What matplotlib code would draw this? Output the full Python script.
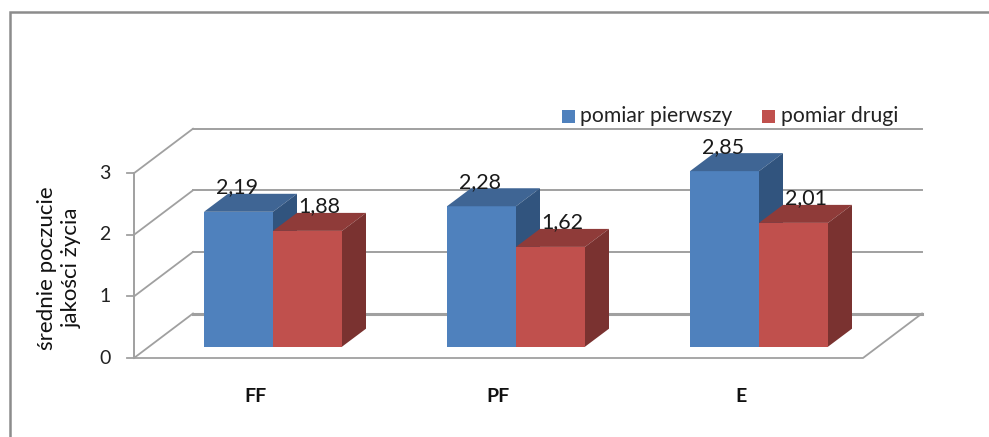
"""Grouped pseudo-3D column chart of mean quality-of-life scores."""
import matplotlib
matplotlib.use("Agg")
import matplotlib.pyplot as plt
from matplotlib.patches import Polygon, Rectangle

categories = ["FF", "PF", "E"]
series_names = ["pomiar pierwszy", "pomiar drugi"]
first_values = [2.19, 2.28, 2.85]
second_values = [1.88, 1.62, 2.01]
first_labels = ["2,19", "2,28", "2,85"]
second_labels = ["1,88", "1,62", "2,01"]
y_ticks = [0, 1, 2, 3]

W, H = 989, 437
CAT_PX = 243.0     # pixels per category
VAL_PX = 61.6      # pixels per unit of y
FLOOR_PX = 358.0   # pixel row of value 0 on the front edge
CAT0_PX = 273.0    # pixel column of the first category centre

BLUE = ("#4F81BD", "#3F6594", "#31547E")
RED = ("#C0504D", "#8F3B39", "#7A3230")
GRID = "#A0A0A0"

plt.rcParams["font.family"] = ["Lato", "DejaVu Sans"]
fig = plt.figure(figsize=(W / 100, H / 100), dpi=100)
ax = fig.add_axes([0, 0, 1, 1])
ax.set_xlim(-CAT0_PX / CAT_PX, (W - CAT0_PX) / CAT_PX)
ax.set_ylim((FLOOR_PX - H) / VAL_PX, FLOOR_PX / VAL_PX)
ax.axis("off")


def dx(px):
    return px / CAT_PX


def dy(px):
    return px / VAL_PX


# outer frame: only the left and top edges are in view
ax.plot([dx(9.5 - CAT0_PX), dx(9.5 - CAT0_PX), dx(W - CAT0_PX)],
        [dy(FLOOR_PX - H), dy(FLOOR_PX - 12), dy(FLOOR_PX - 12)],
        color="#8C8C8C", lw=1.8, zorder=1, solid_joinstyle="miter")

# walls and floor
x_front_l = dx(134 - CAT0_PX)
x_front_r = dx(863 - CAT0_PX)
depth_x, depth_y = dx(59), dy(44.5)
for v in y_ticks:
    ax.plot([x_front_l, x_front_l + depth_x], [v, v + depth_y], color=GRID,
            lw=1.3, zorder=2)
    ax.plot([x_front_l + depth_x, x_front_r + depth_x], [v + depth_y, v + depth_y],
            color=GRID, lw=2.2 if v == 0 else 1.4, zorder=2)
    ax.plot([x_front_l - dx(7), x_front_l], [v, v], color=GRID, lw=1.3, zorder=2)
    ax.text(x_front_l - dx(29), v, str(v), fontsize=14, color="#222222",
            ha="center", va="center", zorder=6)
ax.plot([x_front_l, x_front_l], [y_ticks[0], y_ticks[-1]], color=GRID, lw=1.4, zorder=2)
ax.plot([x_front_l, x_front_r, x_front_r + depth_x],
        [0, 0, depth_y], color=GRID, lw=1.3, zorder=2)

# columns
bar_w = dx(69)
bar_dx, bar_dy = dx(24), dy(18)
base = dy(FLOOR_PX - 346.7)


def draw_column(x, value, label, colors, z, label_shift):
    top = base + value
    front, cap, side = colors
    ax.add_patch(Rectangle((x, base), bar_w, value, facecolor=front,
                           edgecolor="none", zorder=z))
    ax.add_patch(Polygon([(x, top), (x + bar_dx, top + bar_dy),
                          (x + bar_w + bar_dx, top + bar_dy), (x + bar_w, top)],
                         facecolor=cap, edgecolor="none", zorder=z))
    ax.add_patch(Polygon([(x + bar_w, base), (x + bar_w + bar_dx, base + bar_dy),
                          (x + bar_w + bar_dx, top + bar_dy), (x + bar_w, top)],
                         facecolor=side, edgecolor="none", zorder=z))
    # the comma of each value label hangs over the column cap
    ax.text(x + bar_w / 2 + dx(label_shift), top + bar_dy + dy(0.5), label,
            fontsize=15.5, color="#1A1A1A", ha="center", va="baseline", zorder=7)


for i, cat in enumerate(categories):
    draw_column(i - bar_w, first_values[i], first_labels[i], BLUE, 4, -1)
    draw_column(i, second_values[i], second_labels[i], RED, 5, 12)
    ax.text(i - dx(18), dy(FLOOR_PX - 396), cat, fontsize=14, fontweight="bold",
            color="#111111", ha="center", va="center")

# axis title
ax.text(dx(59 - CAT0_PX), dy(FLOOR_PX - 268), "średnie poczucie\njakości życia",
        fontsize=16, color="#111111", rotation=90, ha="center", va="center",
        linespacing=1.3, multialignment="center")

# legend
leg_y = dy(FLOOR_PX - 116.5)
for colors, name, x_sw, x_txt in zip((BLUE, RED), series_names,
                                     (562, 762), (580, 781)):
    ax.add_patch(Rectangle((dx(x_sw - CAT0_PX), leg_y - dy(6.5)), dx(13), dy(13),
                           facecolor=colors[0], edgecolor="none", zorder=6))
    ax.text(dx(x_txt - CAT0_PX), leg_y, name, fontsize=15.2, color="#222222",
            ha="left", va="center", zorder=6)

fig.savefig("out.png", dpi=100, facecolor="white")
plt.close(fig)
